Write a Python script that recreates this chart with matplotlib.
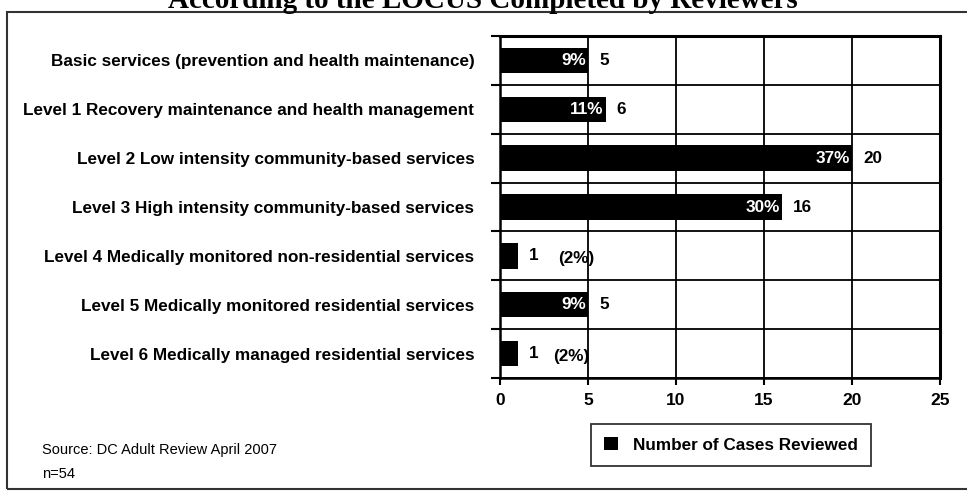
import matplotlib
matplotlib.use("Agg")
import matplotlib.pyplot as plt
from matplotlib.patches import Rectangle

# Levels of care recommended by the LOCUS assessment
categories = [
    "Basic services (prevention and health maintenance)",
    "Level 1 Recovery maintenance and health management",
    "Level 2 Low intensity community-based services",
    "Level 3 High intensity community-based services",
    "Level 4 Medically monitored non-residential services",
    "Level 5 Medically monitored residential services",
    "Level 6 Medically managed residential services",
]
cases = [5, 6, 20, 16, 1, 5, 1]
percent_labels = ["9%", "11%", "37%", "30%", "(2%)", "9%", "(2%)"]
x_ticks = [0, 5, 10, 15, 20, 25]

W, H = 967, 492
fig = plt.figure(figsize=(W / 100, H / 100), dpi=100)
fig.patch.set_facecolor("white")

ax = fig.add_axes([500 / W, 1 - 378 / H, 440 / W, 342 / H])

ypos = list(range(len(categories)))
bars = ax.barh(ypos, cases, height=0.52, color="black",
               label="Number of Cases Reviewed", zorder=3)

ax.set_xlim(0, 25)
ax.set_ylim(len(categories) - 0.5, -0.5)
ax.set_xticks(x_ticks)
ax.set_xticklabels([str(t) for t in x_ticks], fontsize=12.5, fontweight="bold",
                   family="Liberation Sans")
ax.tick_params(axis="x", direction="out", length=5, width=1.5, pad=6)

ax.set_yticks(ypos)
ax.set_yticklabels(categories, fontsize=12.3, fontweight="bold",
                   family="Liberation Sans")
ax.tick_params(axis="y", which="major", length=0, pad=18.5)
ax.set_yticks([i - 0.5 for i in range(len(categories) + 1)], minor=True)
ax.tick_params(axis="y", which="minor", direction="out", length=6.5, width=1.5)

ax.grid(True, axis="x", which="major", color="black", linewidth=1.3, zorder=1)
ax.grid(True, axis="y", which="minor", color="black", linewidth=1.3, zorder=1)
ax.grid(False, axis="y", which="major")

for side in ["left", "bottom"]:
    ax.spines[side].set_linewidth(1.8)
for side in ["top", "right"]:
    ax.spines[side].set_linewidth(2.2)

# value labels: count outside the bar, share inside (or beside for tiny bars)
pct_pos = {4: 3.3, 6: 3.0}
for i, (v, p) in enumerate(zip(cases, percent_labels)):
    ax.annotate(str(v), xy=(v, i), xytext=(8, 0), textcoords="offset points",
                ha="left", va="center", fontsize=12.3, fontweight="bold",
                family="Liberation Sans", color="black", zorder=4)
    if i in pct_pos:
        ax.text(pct_pos[i], i + 0.05, p, ha="left", va="center", fontsize=12.3,
                fontweight="bold", family="Liberation Sans", color="black", zorder=4)
    else:
        ax.annotate(p, xy=(v, i), xytext=(-1.5, 0), textcoords="offset points",
                    ha="right", va="center", fontsize=12.3, fontweight="bold",
                    family="Liberation Sans", color="white", zorder=4)

leg = fig.legend(handles=[bars], labels=["Number of Cases Reviewed"],
                 loc="center", bbox_to_anchor=(731 / W, 1 - 445 / H),
                 prop={"family": "Liberation Sans", "weight": "bold", "size": 12.3},
                 frameon=True, fancybox=False, handlelength=0.8, handleheight=0.8,
                 handletextpad=0.9, borderpad=0.75, borderaxespad=0)
leg.get_frame().set_edgecolor("black")
leg.get_frame().set_linewidth(1.3)

fig.text(42 / W, 1 - 450 / H, "Source: DC Adult Review April 2007",
         ha="left", va="center", fontsize=10.5, family="Liberation Sans")
fig.text(42 / W, 1 - 474 / H, "n=54",
         ha="left", va="center", fontsize=10.5, family="Liberation Sans")

fig.text(483 / W, 1 - 8 / H, "According to the LOCUS Completed by Reviewers",
         ha="center", va="baseline", fontsize=21, fontweight="bold",
         family="Liberation Serif")

fig.add_artist(Rectangle((7 / W, 3 / H), 1.0, 477 / H, transform=fig.transFigure,
                         fill=False, edgecolor="#333333", linewidth=1.5))

fig.savefig("out.png", dpi=100)
